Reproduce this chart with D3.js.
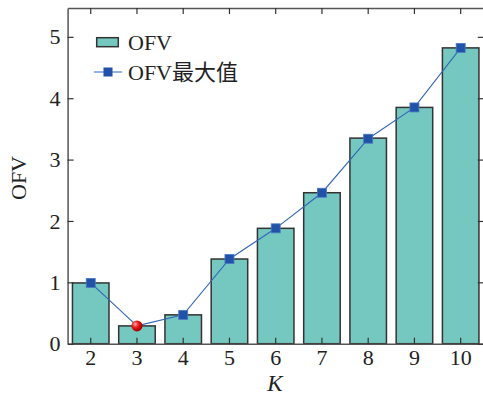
<!DOCTYPE html>
<html>
<head>
<meta charset="utf-8">
<script src="https://cdn.jsdelivr.net/npm/d3@7/dist/d3.min.js"></script>
<style>
  body { margin: 0; background: #fff; }
</style>
</head>
<body>
<div id="chart"></div>
<script>
var categories = ['2', '3', '4', '5', '6', '7', '8', '9', '10'];
var ofv = [0.99, 0.29, 0.47, 1.38, 1.88, 2.46, 3.35, 3.85, 4.82];
var ofvMax = [0.99, 0.29, 0.47, 1.38, 1.88, 2.46, 3.34, 3.85, 4.82];
var yTicks = [0, 1, 2, 3, 4, 5];
var minIndex = 1; // K = 3 highlighted

var width = 483, height = 403;
var plotLeft = 67.6, plotRight = 483.8, plotTop = 8, plotBottom = 343.7;
var serif = "'Liberation Serif', 'Times New Roman', Times, 'Noto Sans CJK SC', serif";

var svg = d3.select('#chart')
  .append('svg')
  .attr('width', width)
  .attr('height', height)
  .style('font-family', serif);

var defs = svg.append('defs');
var grad = defs.append('radialGradient')
  .attr('id', 'red-ball')
  .attr('cx', '35%').attr('cy', '35%').attr('r', '65%');
grad.append('stop').attr('offset', '0%').attr('stop-color', '#ffb0b0');
grad.append('stop').attr('offset', '45%').attr('stop-color', '#f01818');
grad.append('stop').attr('offset', '100%').attr('stop-color', '#a00000');

var x = d3.scaleBand()
  .domain(categories)
  .range([plotLeft, plotRight])
  .paddingInner(0.21)
  .paddingOuter(0.105);

var y = d3.scaleLinear()
  .domain([0, 5.47])
  .range([plotBottom, plotTop]);

// bars
svg.selectAll('rect.bar')
  .data(ofv)
  .enter()
  .append('rect')
  .attr('class', 'bar')
  .attr('x', function(d, i) { return x(categories[i]); })
  .attr('width', x.bandwidth())
  .attr('y', function(d) { return y(d); })
  .attr('height', function(d) { return y(0) - y(d); })
  .attr('fill', '#74c8bf')
  .attr('stroke', '#333')
  .attr('stroke-width', 1.5);

// axes (ticks pointing inward)
var axisColor = '#555';
var bottomAxis = svg.append('g')
  .attr('transform', 'translate(0,' + plotBottom + ')')
  .call(d3.axisBottom(x).tickSizeInner(-6).tickSizeOuter(0).tickPadding(6));
var topAxis = svg.append('g')
  .attr('transform', 'translate(0,' + plotTop + ')')
  .call(d3.axisTop(x).tickSizeInner(-6).tickSizeOuter(0).tickFormat(''));
var leftAxis = svg.append('g')
  .attr('transform', 'translate(' + plotLeft + ',0)')
  .call(d3.axisLeft(y).tickValues(yTicks).tickFormat(d3.format('d'))
    .tickSizeInner(-6).tickSizeOuter(0).tickPadding(7));
var rightAxis = svg.append('g')
  .attr('transform', 'translate(' + plotRight + ',0)')
  .call(d3.axisRight(y).tickValues(yTicks).tickSizeInner(-6).tickSizeOuter(0).tickFormat(''));

[bottomAxis, topAxis, leftAxis, rightAxis].forEach(function(g) {
  g.attr('font-size', 22).attr('font-family', serif);
  g.select('.domain').attr('stroke', axisColor).attr('stroke-width', 1.5);
  g.selectAll('.tick line').attr('stroke', '#333').attr('stroke-width', 1.2);
  g.selectAll('.tick text').attr('fill', '#222');
});

// line
var line = d3.line()
  .x(function(d, i) { return x(categories[i]) + x.bandwidth() / 2; })
  .y(function(d) { return y(d); });

svg.append('path')
  .datum(ofvMax)
  .attr('d', line)
  .attr('fill', 'none')
  .attr('stroke', '#3366bb')
  .attr('stroke-width', 1.1);

var ms = 9;
svg.selectAll('rect.marker')
  .data(ofvMax.map(function(d, i) { return { k: categories[i], v: d, i: i }; })
    .filter(function(d) { return d.i !== minIndex; }))
  .enter()
  .append('rect')
  .attr('class', 'marker')
  .attr('x', function(d) { return x(d.k) + x.bandwidth() / 2 - ms / 2; })
  .attr('y', function(d) { return y(d.v) - ms / 2; })
  .attr('width', ms)
  .attr('height', ms)
  .attr('fill', '#2052a8')
  .attr('stroke', '#4a78c4')
  .attr('stroke-width', 0.8);

svg.append('circle')
  .attr('cx', x(categories[minIndex]) + x.bandwidth() / 2)
  .attr('cy', y(ofvMax[minIndex]))
  .attr('r', 5.5)
  .attr('fill', 'url(#red-ball)');

// legend
var legend = svg.append('g');
legend.append('rect')
  .attr('x', 96.7).attr('y', 37.7)
  .attr('width', 21.6).attr('height', 9)
  .attr('fill', '#74c8bf')
  .attr('stroke', '#333')
  .attr('stroke-width', 1.5);
legend.append('text')
  .attr('x', 128).attr('y', 50)
  .attr('font-size', 22).attr('fill', '#222')
  .text('OFV');
legend.append('line')
  .attr('x1', 94).attr('x2', 122)
  .attr('y1', 72).attr('y2', 72)
  .attr('stroke', '#6f98d8')
  .attr('stroke-width', 1.5);
legend.append('rect')
  .attr('x', 108 - ms / 2).attr('y', 72 - ms / 2)
  .attr('width', ms).attr('height', ms)
  .attr('fill', '#2052a8');
legend.append('text')
  .attr('x', 128).attr('y', 80)
  .attr('font-size', 22).attr('fill', '#222')
  .text('OFV最大值');

// axis titles
svg.append('text')
  .attr('transform', 'translate(26,' + 178 + ') rotate(-90)')
  .attr('text-anchor', 'middle')
  .attr('font-size', 22).attr('fill', '#222')
  .text('OFV');
svg.append('text')
  .attr('x', 275).attr('y', 391)
  .attr('text-anchor', 'middle')
  .attr('font-size', 23).attr('fill', '#222')
  .attr('font-style', 'italic')
  .text('K');
</script>
</body>
</html>
